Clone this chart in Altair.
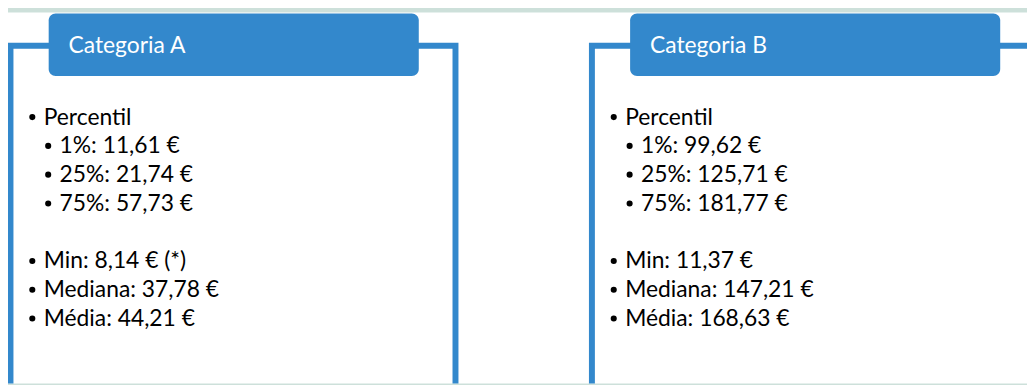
import altair as alt
import pandas as pd

# ---------------- data ----------------
categories = ["Categoria A", "Categoria B"]
group_label = "Percentil"
percentile_labels = ["1%", "25%", "75%"]
percentiles_a = [11.61, 21.74, 57.73]
percentiles_b = [99.62, 125.71, 181.77]
stat_labels = ["Min", "Mediana", "Média"]
stats_a = [8.14, 37.78, 44.21]
stats_b = [11.37, 147.21, 168.63]
notes_a = ["(*)", "", ""]
notes_b = ["", "", ""]

# ---------------- layout / style ----------------
W, H = 1027, 377          # svg size (page minus the 8px margin)
OX, OY = 8, 8             # page margin offset
BLUE = "#3388cc"
BG = "#cde0da"
FONT = "Lato"
FS = 23
panel_left = [10.5, 596.5]  # centre of the left frame line of each panel
LINE_H = 29
FIRST_BASE = 124


def euro(v):
    return f"{v:.2f}".replace(".", ",") + " €"


percs = [percentiles_a, percentiles_b]
stats = [stats_a, stats_b]
notes = [notes_a, notes_b]

frames, tabs, titles, lines, bullets = [], [], [], [], []
for i, cat in enumerate(categories):
    px = panel_left[i]
    frames.append(dict(x=px, x2=px + 448.5, y=44.5, y2=440))
    tabs.append(dict(x=px + 38.5, x2=px + 411.5, y=12, y2=75))
    titles.append(dict(x=px + 58.5, y=52, text=cat))
    entries = [(0, group_label, 0)]
    for k, (lab, v) in enumerate(zip(percentile_labels, percs[i])):
        entries.append((1, f"{lab}: {euro(v)}", k + 1))
    for k, (lab, v, n) in enumerate(zip(stat_labels, stats[i], notes[i])):
        t = f"{lab}: {euro(v)}" + (f" {n}" if n else "")
        entries.append((0, t, k + 5))
    for lvl, t, row in entries:
        base = FIRST_BASE + LINE_H * row
        if lvl == 0:
            bx, tx = px + 22, px + 33.5
        else:
            bx, tx = px + 38, px + 49.5
        lines.append(dict(x=tx, y=base, text=t))
        bullets.append(dict(x=bx, y=base - 7.5))

xs = alt.Scale(domain=[OX, OX + W], nice=False, zero=False)
ys = alt.Scale(domain=[OY, OY + H], nice=False, zero=False, reverse=True)

bg = alt.Chart(pd.DataFrame([dict(x=8, x2=1100, y=11, y2=440)])).mark_rect(
    color="white", clip=True
).encode(
    x=alt.X("x:Q", scale=xs, axis=None), x2="x2:Q",
    y=alt.Y("y:Q", scale=ys, axis=None), y2="y2:Q",
)

frame = alt.Chart(pd.DataFrame(frames)).mark_rect(
    fillOpacity=0, stroke=BLUE, strokeWidth=6, clip=True
).encode(
    x=alt.X("x:Q", scale=xs, axis=None), x2="x2:Q",
    y=alt.Y("y:Q", scale=ys, axis=None), y2="y2:Q",
)

tab = alt.Chart(pd.DataFrame(tabs)).mark_rect(
    color=BLUE, cornerRadius=7, clip=True
).encode(
    x=alt.X("x:Q", scale=xs, axis=None), x2="x2:Q",
    y=alt.Y("y:Q", scale=ys, axis=None), y2="y2:Q",
)

title = alt.Chart(pd.DataFrame(titles)).mark_text(
    align="left", baseline="alphabetic", font=FONT, fontSize=FS, color="white"
).encode(
    x=alt.X("x:Q", scale=xs, axis=None),
    y=alt.Y("y:Q", scale=ys, axis=None),
    text="text:N",
)

body = alt.Chart(pd.DataFrame(lines)).mark_text(
    align="left", baseline="alphabetic", font=FONT, fontSize=FS, color="black"
).encode(
    x=alt.X("x:Q", scale=xs, axis=None),
    y=alt.Y("y:Q", scale=ys, axis=None),
    text="text:N",
)

dots = alt.Chart(pd.DataFrame(bullets)).mark_circle(
    size=38, color="black", opacity=1
).encode(
    x=alt.X("x:Q", scale=xs, axis=None),
    y=alt.Y("y:Q", scale=ys, axis=None),
)

chart = alt.layer(bg, frame, tab, title, body, dots).properties(
    width=W, height=H, padding=0,
    autosize=alt.AutoSizeParams(type="none"),
    background=BG,
).configure_view(stroke=None)

chart.save("out.html", embed_options={"renderer": "svg", "actions": False})
